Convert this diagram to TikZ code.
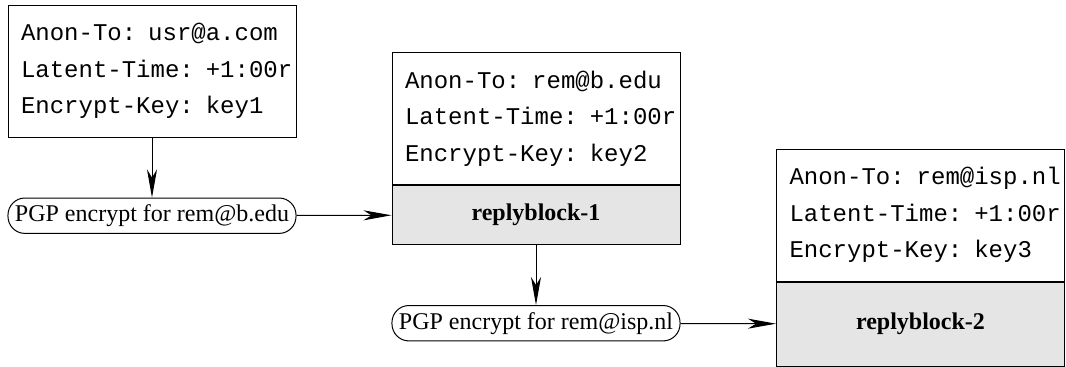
\documentclass[tikz,border=0pt]{standalone}
\usepackage{fontspec}
\setmainfont{Liberation Serif}
\setmonofont{Liberation Mono}
\usetikzlibrary{positioning,arrows.meta}

\begin{document}
\begin{tikzpicture}[x=0.5pt, y=-0.5pt,
    line width=0.5pt,
    >={Stealth[length=14pt, width=5pt, inset=4pt]},
    fields/.style={
    draw,
    font=\ttfamily\fontsize{12}{18.25}\selectfont,
    text width=131pt,
    inner xsep=6.5pt,
    align=left,
    minimum height=66pt},
    block/.style={
    draw,
    fill=gray!20,
    font=\fontsize{12}{14.4}\selectfont\bfseries,
    minimum width=144pt,
    anchor=north},
    pgp/.style={
    draw,
    font=\fontsize{12}{14.4}\selectfont,
    rounded corners=8.5pt,
    inner xsep=3.5pt,
    minimum height=17.5pt}]

    \useasboundingbox (0,0) rectangle (1066,366);

    \node[fields] (f1) at (152,71)
        {\mbox{Anon-To: usr@a.com}\\\mbox{Latent-Time: +1:00r}\\\mbox{Encrypt-Key: key1}};
    \node[pgp, below=30pt of f1] (pgp1) {PGP encrypt for rem@b.edu};

    \node[fields] (f2) at (536,118.5)
        {\mbox{Anon-To: rem@b.edu}\\\mbox{Latent-Time: +1:00r}\\\mbox{Encrypt-Key: key2}};
    \node[block, minimum height=29.5pt] (rb1) at (f2.south) {replyblock-1};
    \node[pgp, below=30pt of rb1] (pgp2) {PGP encrypt for rem@isp.nl};

    \node[fields] (f3) at (920.5,215)
        {\mbox{Anon-To: rem@isp.nl}\\\mbox{Latent-Time: +1:00r}\\\mbox{Encrypt-Key: key3}};
    \node[block, minimum height=42pt] (rb2) at (f3.south) {replyblock-2};

    \draw[->] (f1) -- (pgp1);
    \draw[->] (pgp1) -- (rb1);
    \draw[->] (rb1) -- (pgp2);
    \draw[->] (pgp2) -- (rb2);
\end{tikzpicture}
\end{document}
